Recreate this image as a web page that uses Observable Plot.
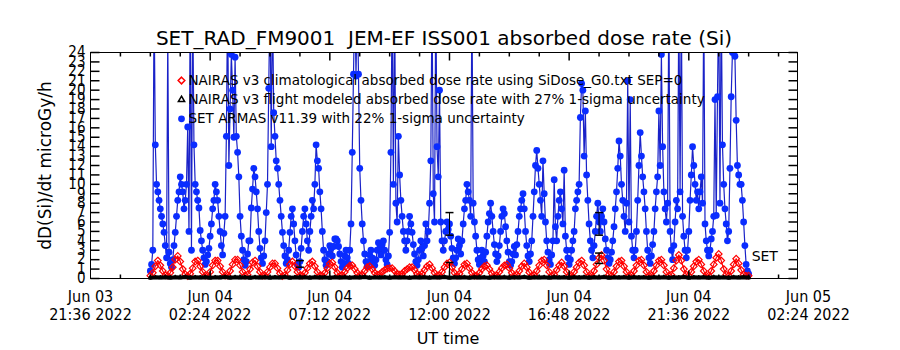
<!DOCTYPE html>
<html><head><meta charset="utf-8">
<script src="https://cdn.jsdelivr.net/npm/d3@7"></script>
<script src="https://cdn.jsdelivr.net/npm/@observablehq/plot@0.6"></script>
<style>
body{margin:0;background:#fff;}
#chart svg{display:block;background:#fff;}
</style></head><body><div id="chart"></div>
<script>
// ---------- text ----------
const titleText = "SET_RAD_FM9001\u00a0\u00a0JEM-EF ISS001 absorbed dose rate (Si)";
const yLabelText = "dD(Si)/dt microGy/h";
const xLabelText = "UT time";
const setLabelText = "SET";
const legendLabels = [
  "NAIRAS v3 climatological absorbed dose rate using SiDose_G0.txt SEP=0",
  "NAIRAS v3 flight modeled absorbed dose rate with 27% 1-sigma uncertainty",
  "SET ARMAS v11.39 with 22% 1-sigma uncertainty"
];

// ---------- axes ----------
const xDomainStart = "2022-06-03T21:36:00Z";
const xDomainEnd = "2022-06-05T01:57:36Z";
const xTickTimes = ["2022-06-03T21:36:00Z","2022-06-04T02:24:00Z","2022-06-04T07:12:00Z","2022-06-04T12:00:00Z","2022-06-04T16:48:00Z","2022-06-04T21:36:00Z","2022-06-05T02:24:00Z"];
const xTickLabels = ["Jun 03\n21:36 2022","Jun 04\n02:24 2022","Jun 04\n07:12 2022","Jun 04\n12:00 2022","Jun 04\n16:48 2022","Jun 04\n21:36 2022","Jun 05\n02:24 2022"];
const xMinorTickTimes = ["2022-06-03T22:48:00Z","2022-06-04T00:00:00Z","2022-06-04T01:12:00Z","2022-06-04T03:36:00Z","2022-06-04T04:48:00Z","2022-06-04T06:00:00Z","2022-06-04T08:24:00Z","2022-06-04T09:36:00Z","2022-06-04T10:48:00Z","2022-06-04T13:12:00Z","2022-06-04T14:24:00Z","2022-06-04T15:36:00Z","2022-06-04T18:00:00Z","2022-06-04T19:12:00Z","2022-06-04T20:24:00Z","2022-06-04T22:48:00Z","2022-06-05T00:00:00Z","2022-06-05T01:12:00Z"];
const yTicks = [0,1,2,3,4,5,6,7,8,9,10,11,12,13,14,15,16,17,18,19,20,21,22,23,24];

// ---------- series ----------
const seriesStart = "2022-06-04T00:00:00Z";
// SET ARMAS, one value every 3 minutes (one row = one hour)
const armasStepMin = 3;
const armasValues = [
  0.8,1.5,3.0,30,14.2,10.0,9.2,8.3,7.4,6.6,5.8,4.9,3.5,2.2,26,2.8,1.6,1.2,2.0,3.5,
  4.9,6.6,8.3,9.2,10.8,10.0,9.2,7.4,8.3,10.0,16.1,5.0,30,3.0,30,14.2,10.0,9.2,8.3,7.5,
  5.1,4.0,3.0,2.2,1.5,1.8,2.5,3.2,4.5,5.8,7.4,8.3,10.0,9.2,8.3,6.6,5.0,3.5,2.5,4.8,
  6.6,15.1,30,12.0,18.0,23.8,20.0,15.0,23.5,15.1,13.4,10.8,6.6,4.5,3.0,2.0,1.4,1.8,2.6,4.0,
  4.0,7.5,9.5,11.7,10.8,9.2,7.4,5.0,3.2,2.2,1.6,2.4,4.0,7.0,10.0,20.2,30,14.0,30,17.6,
  15.1,12.5,11.7,10.0,8.3,6.6,4.9,3.5,2.4,1.6,2.0,3.0,4.9,6.6,7.4,5.8,4.0,2.5,1.5,1.2,
  1.8,3.2,5.0,6.6,7.4,5.8,4.0,3.0,5.0,6.6,8.3,7.4,10.0,14.2,12.5,11.7,9.2,7.4,5.0,3.0,
  2.0,1.4,1.8,2.6,3.5,3.2,2.4,3.4,4.2,4.2,4.0,3.4,2.6,1.8,1.2,1.6,2.4,3.0,2.2,1.6,
  3.0,5.8,13.4,21.7,30,21.5,30,21.7,11.7,8.3,5.8,4.0,2.6,1.8,1.3,1.8,2.5,3.0,2.2,1.6,
  1.4,2.0,3.0,3.8,3.2,2.5,3.6,4.0,3.0,2.0,1.5,2.4,4.9,13.4,30,10.0,30,8.0,6.0,15.1,
  11.0,8.3,6.6,5.0,4.0,3.0,4.0,5.0,6.6,5.8,4.9,3.6,2.6,1.8,1.4,2.0,3.0,4.0,3.2,2.4,
  3.5,5.8,4.0,5.0,8.0,12.5,30,9.0,6.0,30,14.0,10.8,20.0,6.0,4.0,3.0,4.0,5.0,6.0,5.2,
  5.8,4.5,3.2,2.2,1.6,2.2,3.0,4.2,3.5,2.6,4.0,5.8,7.4,8.3,10.0,9.2,8.3,6.6,30,8.0,
  6.0,4.5,3.0,2.0,1.5,2.2,3.0,2.4,1.8,2.8,4.5,6.0,6.9,8.0,6.6,5.0,3.6,2.6,1.8,2.4,
  3.5,5.0,6.6,7.4,6.9,5.5,4.0,2.8,1.8,1.4,1.8,2.6,3.4,2.5,3.6,5.0,6.6,7.4,8.3,9.0,
  7.4,5.0,3.5,2.4,1.8,2.6,4.0,6.6,9.2,12.0,13.6,11.7,10.0,8.3,6.6,12.5,9.0,6.0,4.0,2.8,
  2.0,1.5,2.5,4.0,10.5,5.5,4.0,6.6,8.3,9.2,7.4,5.8,11.5,4.5,3.0,2.2,1.5,2.0,3.0,4.0,
  5.0,7.4,8.3,9.2,10.0,17.1,20.7,20.0,13.0,17.8,11.0,8.3,5.8,4.0,3.0,2.2,3.5,5.0,6.6,8.0,
  6.0,5.0,6.6,7.4,6.0,4.2,3.0,2.2,1.6,2.0,2.8,4.0,5.5,7.4,9.2,11.7,14.6,13.0,10.0,8.3,
  6.6,5.0,8.0,21.0,6.0,19.0,4.5,3.0,2.2,3.0,5.0,8.3,12.0,15.5,13.0,10.8,9.2,7.4,5.0,3.0,
  2.2,1.6,2.4,3.6,5.0,7.4,9.2,10.8,17.8,12.0,23.8,14.0,9.2,7.4,6.0,8.0,30,5.0,3.0,2.0,
  3.5,6.0,8.3,7.4,30,9.2,30,6.6,4.5,3.0,2.2,3.0,5.0,8.3,11.0,14.0,12.0,10.0,8.3,9.2,
  7.4,9.2,10.8,8.0,30,5.8,4.0,3.0,2.4,3.0,4.2,5.0,6.6,19.0,6.7,19.3,30,8.0,30,14.2,
  10.0,7.4,5.8,4.0,5.0,11.7,19.3,24.0,30,23.6,16.8,12.0,11.0,10.0,10.0,8.3,6.0,3.5,1.5,0.8,
  0.5
];
// NAIRAS climatological, one value every 6 minutes (one row = one hour)
const nairasClimStepMin = 6;
const nairasClimValues = [
  0.3,0.6,1.3,1.9,1.4,0.8,0.35,0.3,0.6,1.2,
  2.0,2.4,1.8,1.0,0.45,0.25,0.5,1.1,1.8,1.9,
  1.3,0.7,0.3,0.3,0.7,1.4,1.9,1.9,1.3,0.7,
  0.3,0.3,0.8,1.5,2.0,2.0,1.4,0.7,0.3,0.4,
  1.0,1.7,1.9,1.3,0.7,0.3,0.3,0.7,1.2,1.6,
  1.6,1.1,0.55,0.25,0.35,0.9,1.5,1.8,1.3,0.7,
  0.3,0.3,0.6,1.1,1.6,1.8,1.3,0.7,0.3,0.3,
  0.6,1.1,1.6,1.7,1.2,0.6,0.3,0.35,0.7,1.1,
  1.35,1.4,1.0,0.6,0.35,0.4,0.8,1.2,1.3,1.0,
  0.6,0.4,0.45,0.7,0.9,1.05,1.1,1.1,0.8,0.5,
  0.4,0.5,0.8,1.0,1.2,1.2,0.9,0.5,0.35,0.5,
  0.9,1.3,1.5,1.1,0.6,0.3,0.35,0.7,1.2,1.6,
  1.7,1.2,0.6,0.3,0.5,1.0,1.5,1.6,1.1,0.6,
  0.3,0.3,0.6,1.0,1.3,1.4,1.0,0.55,0.3,0.35,
  0.7,1.1,1.4,1.5,1.1,0.6,0.3,0.4,0.8,1.3,
  1.6,1.2,0.65,0.3,0.35,0.8,1.4,1.9,2.0,1.4,
  0.7,0.3,0.4,0.9,1.4,1.7,1.3,0.7,0.3,0.3,
  0.7,1.2,1.7,1.9,1.4,0.7,0.3,0.3,0.8,1.5,
  2.2,2.5,1.9,1.0,0.4,0.3,0.7,1.3,1.8,1.9,
  1.3,0.7,0.3,0.35,0.8,1.4,1.9,2.0,1.4,0.7,
  0.3,0.3,0.8,1.4,1.9,2.0,1.4,0.7,0.3,0.4,
  1.1,1.9,2.5,1.9,1.0,0.4,0.3,0.7,1.3,1.8,
  2.0,1.5,0.8,0.3,0.3,0.8,1.5,2.2,2.6,1.9,
  1.0,0.4,0.3,0.8,1.5,2.1,1.6,0.9,0.4,0.3,
  0.3
];
// NAIRAS flight modeled, one value every 12 minutes
const nairasFlightStepMin = 12;
const nairasFlightValues = [
  0.08,0.12,0.10,0.14,0.09,0.13,0.10,0.15,0.09,0.12,
  0.10,0.14,0.08,0.12,0.10,0.15,0.09,0.13,0.10,0.12,
  0.08,0.13,0.10,0.14,0.09,0.12,0.10,0.15,0.08,0.12,
  0.10,0.13,0.09,0.14,0.10,0.12,0.08,0.13,0.10,0.14,
  0.09,0.12,0.10,0.15,0.08,0.12,0.10,0.13,0.09,0.14,
  0.10,0.12,0.08,0.13,0.10,0.14,0.09,0.12,0.10,0.15,
  0.08,0.12,0.10,0.13,0.09,0.14,0.10,0.12,0.08,0.13,
  0.10,0.14,0.09,0.12,0.10,0.15,0.08,0.12,0.10,0.13,
  0.09,0.14,0.10,0.12,0.08,0.13,0.10,0.14,0.09,0.12,
  0.10,0.15,0.08,0.12,0.10,0.13,0.09,0.14,0.10,0.12,
  0.08,0.13,0.10,0.14,0.09,0.12,0.10,0.15,0.08,0.12,
  0.10,0.13,0.09,0.14,0.10,0.12,0.08,0.13,0.10,0.14,
  0.10
];
// error bars
const errTimes = ["2022-06-04T06:00:00Z","2022-06-04T12:00:00Z","2022-06-04T12:00:00Z","2022-06-04T18:00:00Z","2022-06-04T18:00:00Z"];
const errLow  = [1.2, 4.6, 0.1, 4.6, 1.6];
const errHigh = [1.9, 7.0, 1.7, 7.0, 2.7];
const setLabelY = 2.3;

// ---------- colours ----------
const blueLine = "#1a22c8", blueDot = "#0a2cff", red = "#ff0000";

// ---------- build tables ----------
const t0 = new Date(seriesStart).getTime();
const mkSeries = (vals, step) => vals.map((v, i) => ({t: new Date(t0 + i * step * 60000), v}));
const armas = mkSeries(armasValues, armasStepMin);
const clim = mkSeries(nairasClimValues, nairasClimStepMin);
const flight = mkSeries(nairasFlightValues, nairasFlightStepMin);
const errs = errTimes.map((t, i) => ({t: new Date(t), lo: errLow[i], hi: errHigh[i]}));
const xDomain = [new Date(xDomainStart), new Date(xDomainEnd)];
const majors = xTickTimes.map(d => new Date(d));
const minors = xMinorTickTimes.map(d => new Date(d));
const lastArmas = armas[armas.length - 1];

// pixel-length line symbols for ticks & caps
const seg = (dx, dy) => ({draw(ctx, size) { const r = Math.sqrt(size / Math.PI); ctx.moveTo(0, 0); ctx.lineTo(dx * r, dy * r); }});
const hbar = {draw(ctx, size) { const r = Math.sqrt(size / Math.PI); ctx.moveTo(-r, 0); ctx.lineTo(r, 0); }};

const FONT = "'DejaVu Sans',sans-serif";
const COND = "'DejaVu Sans Condensed','DejaVu Sans',sans-serif";
const legendDy = [28, 47.3, 66.3];
const legendSymbols = [
  {symbol: "diamond2", stroke: red, fill: "none", r: 3},
  {symbol: "triangle2", stroke: "black", fill: "none", r: 3},
  {symbol: "circle", stroke: "none", fill: blueDot, r: 3.4}
];

const chart = Plot.plot({
  width: 900, height: 350,
  marginLeft: 90, marginRight: 103, marginTop: 52, marginBottom: 72,
  style: `font-family:${FONT};color:black;background:white;`,
  x: {type: "utc", domain: xDomain, axis: null},
  y: {domain: [0, 24], axis: null},
  marks: [
    // ARMAS
    Plot.line(armas, {x: "t", y: "v", stroke: blueLine, strokeWidth: 1.2, clip: true}),
    Plot.dot(armas, {x: "t", y: "v", r: 3.4, fill: blueDot, clip: true}),
    // NAIRAS climatological
    Plot.line(clim, {x: "t", y: "v", stroke: red, strokeWidth: 1.2}),
    Plot.dot(clim, {x: "t", y: "v", symbol: "diamond2", r: 3, stroke: red, strokeWidth: 1.2}),
    // NAIRAS flight modeled
    Plot.line(flight, {x: "t", y: "v", stroke: "black", strokeWidth: 4}),
    Plot.dot(flight, {x: "t", y: "v", symbol: "triangle2", r: 2, stroke: "black", strokeWidth: 1}),
    // error bars
    Plot.ruleX(errs, {x: "t", y1: "lo", y2: "hi", stroke: "black"}),
    Plot.dot(errs, {x: "t", y: "lo", symbol: hbar, r: 4, stroke: "black"}),
    Plot.dot(errs, {x: "t", y: "hi", symbol: hbar, r: 4, stroke: "black"}),
    // SET label
    Plot.text([setLabelText], {x: lastArmas.t, y: setLabelY, text: d => d, dx: 3, textAnchor: "start", fontSize: 14}),
    // frame and ticks
    Plot.frame({stroke: "black"}),
    Plot.dot(yTicks, {x: xDomain[0], y: d => d, symbol: seg(1, 0), r: 9, stroke: "black"}),
    Plot.dot(yTicks, {x: xDomain[1], y: d => d, symbol: seg(-1, 0), r: 9, stroke: "black"}),
    Plot.dot(majors.slice(1, -1), {x: d => d, y: 0, symbol: seg(0, -1), r: 8, stroke: "black"}),
    Plot.dot(majors.slice(1, -1), {x: d => d, y: 24, symbol: seg(0, 1), r: 8, stroke: "black"}),
    Plot.dot(minors, {x: d => d, y: 0, symbol: seg(0, -1), r: 4, stroke: "black"}),
    Plot.dot(minors, {x: d => d, y: 24, symbol: seg(0, 1), r: 4, stroke: "black"}),
    // y tick labels
    Plot.text(yTicks, {y: d => d, text: d => String(d), frameAnchor: "left", dx: -5, textAnchor: "end", lineAnchor: "middle", fontSize: 15, fontFamily: COND}),
    // x tick labels
    Plot.text(majors, {x: d => d, text: (d, i) => xTickLabels[i], frameAnchor: "bottom", lineAnchor: "top", textAnchor: "middle", dy: 10, fontSize: 16, lineHeight: 1.15, fontFamily: COND}),
    // axis titles
    Plot.text([xLabelText], {text: d => d, frameAnchor: "bottom", lineAnchor: "middle", textAnchor: "middle", dy: 60, dx: 4, fontSize: 16}),
    Plot.text([yLabelText], {text: d => d, frameAnchor: "left", lineAnchor: "middle", textAnchor: "middle", dx: -45, rotate: -90, fontSize: 17, letterSpacing: 0.6}),
    Plot.text([titleText], {text: d => d, frameAnchor: "top", lineAnchor: "middle", textAnchor: "middle", dy: -14, fontSize: 20, letterSpacing: 0.6}),
    // legend
    ...legendLabels.map((lab, i) => Plot.text([lab], {text: d => d, frameAnchor: "top-left", dx: 98, dy: legendDy[i], textAnchor: "start", lineAnchor: "middle", fontSize: 13.5})),
    ...legendSymbols.map((s, i) => Plot.dot([0], {frameAnchor: "top-left", dx: 91, dy: legendDy[i], ...s}))
  ]
});
document.getElementById("chart").appendChild(chart);
</script>
</body></html>
